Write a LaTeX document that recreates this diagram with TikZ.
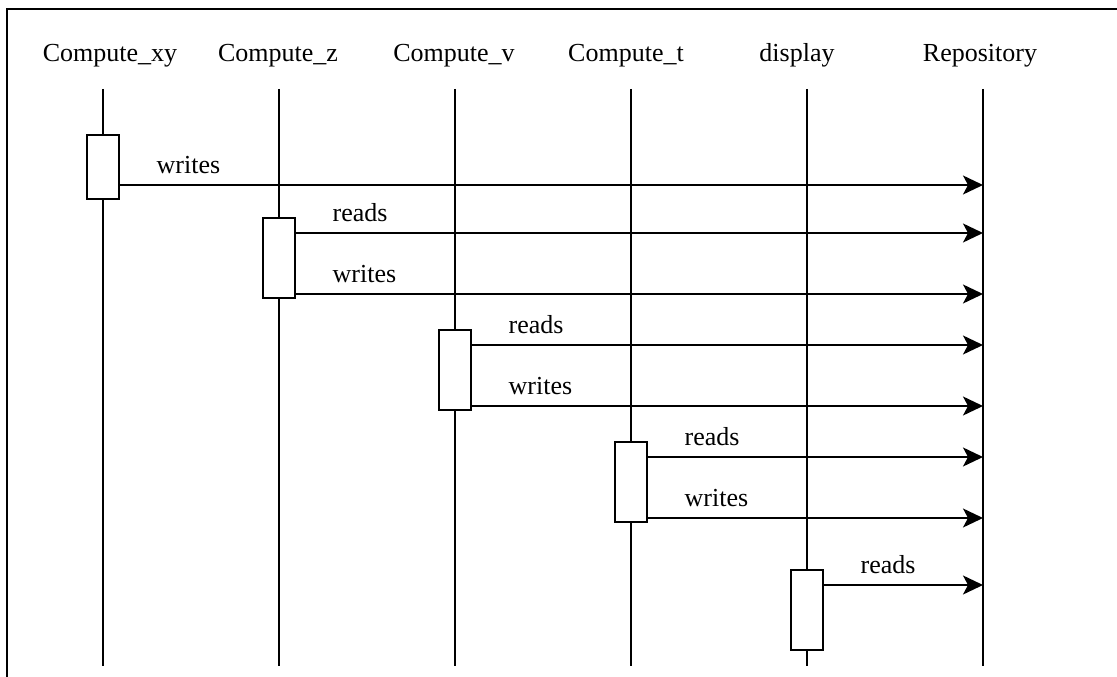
\documentclass[tikz,border=0pt]{standalone}
\usepackage{fontspec}
\setmainfont{Liberation Serif}
\usetikzlibrary{arrows.meta,calc}
\begin{document}
\begin{tikzpicture}[x=1pt,y=-1pt,line width=1.7pt,
  hdr/.style={font=\fontsize{26}{30}\selectfont, anchor=base, inner sep=0pt},
  act/.style={draw, fill=white, minimum width=32pt, inner sep=0pt, anchor=north},
  msg/.style={-{Stealth[length=20pt,width=19pt,inset=5pt]}},
  lbl/.style={font=\fontsize{26}{30}\selectfont, anchor=base west, inner sep=0pt}]
\useasboundingbox (0,0) rectangle (1117,677);
% frame
\coordinate (fb) at (7,677);
\coordinate (ft) at (7,9);
\coordinate (fr) at (1117,9);
\draw (fb) -- (ft) -- (fr);
% headers
\node[hdr] (hxy) at (110,62) {Compute\_xy};
\node[hdr] (hz)  at (278,62) {Compute\_z};
\node[hdr] (hv)  at (454,62) {Compute\_v};
\node[hdr] (ht)  at (626,62) {Compute\_t};
\node[hdr] (hd)  at (797,62) {display};
\node[hdr] (hr)  at (980,62) {Repository};
% lifelines
\foreach \n/\x in {xy/103, z/279, v/455, t/631, d/807, r/983}{
  \coordinate (t\n) at (\x,89);
  \coordinate (b\n) at (\x,666);
  \draw (t\n) -- (b\n);
}
% activation boxes
\node[act, minimum height=64pt] (a1) at (103,134) {};
\node[act, minimum height=80pt] (a2) at (279,217) {};
\node[act, minimum height=80pt] (a3) at (455,329) {};
\node[act, minimum height=80pt] (a4) at (631,441) {};
\node[act, minimum height=80pt] (a5) at (807,569) {};
% message end points on Repository lifeline
\coordinate (m1) at (983,185);
\coordinate (m2) at (983,233);
\coordinate (m3) at (983,294);
\coordinate (m4) at (983,345);
\coordinate (m5) at (983,406);
\coordinate (m6) at (983,457);
\coordinate (m7) at (983,518);
\coordinate (m8) at (983,585);
% messages
\draw[msg] (a1.east |- m1) -- (m1);
\node[lbl] at ($(a1.east |- m1)+(36,-12)$) {writes};
\draw[msg] (a2.east |- m2) -- (m2);
\node[lbl] at ($(a2.east |- m2)+(36,-12)$) {reads};
\draw[msg] (a2.east |- m3) -- (m3);
\node[lbl] at ($(a2.east |- m3)+(36,-12)$) {writes};
\draw[msg] (a3.east |- m4) -- (m4);
\node[lbl] at ($(a3.east |- m4)+(36,-12)$) {reads};
\draw[msg] (a3.east |- m5) -- (m5);
\node[lbl] at ($(a3.east |- m5)+(36,-12)$) {writes};
\draw[msg] (a4.east |- m6) -- (m6);
\node[lbl] at ($(a4.east |- m6)+(36,-12)$) {reads};
\draw[msg] (a4.east |- m7) -- (m7);
\node[lbl] at ($(a4.east |- m7)+(36,-12)$) {writes};
\draw[msg] (a5.east |- m8) -- (m8);
\node[lbl] at ($(a5.east |- m8)+(36,-12)$) {reads};
\end{tikzpicture}
\end{document}
